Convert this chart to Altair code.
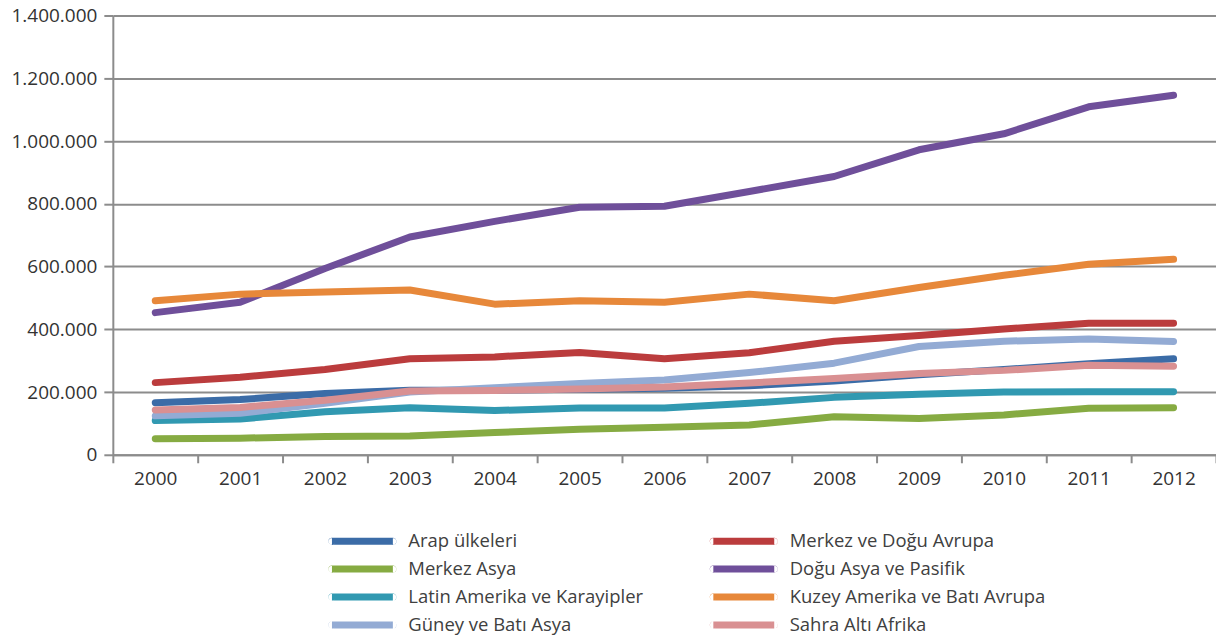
import altair as alt
import pandas as pd

years = [str(y) for y in range(2000, 2013)]

arap = [166000, 176000, 195000, 206000, 206000, 209000, 212000, 220000, 235000, 255000, 272000, 290000, 306000]
merkez_dogu_avrupa = [230000, 247000, 272000, 306000, 312000, 326000, 306000, 325000, 362000, 380000, 401000, 419000, 419000]
merkez_asya = [51000, 53000, 58000, 60000, 71000, 81000, 88000, 95000, 121000, 116000, 127000, 148000, 150000]
dogu_asya = [453000, 486000, 594000, 694000, 744000, 789000, 792000, 839000, 887000, 972000, 1023000, 1109000, 1146000]
latin = [109000, 114000, 137000, 150000, 141000, 149000, 149000, 164000, 183000, 193000, 200000, 201000, 201000]
kuzey = [491000, 512000, 519000, 525000, 480000, 491000, 486000, 512000, 491000, 533000, 572000, 607000, 623000]
guney = [124000, 132000, 164000, 200000, 214000, 227000, 238000, 262000, 292000, 345000, 362000, 369000, 361000]
sahra = [143000, 151000, 174000, 203000, 205000, 210000, 216000, 229000, 243000, 259000, 269000, 285000, 282000]

names = {
    "arap": "Arap ülkeleri",
    "mda": "Merkez ve Doğu Avrupa",
    "ma": "Merkez Asya",
    "dap": "Doğu Asya ve Pasifik",
    "lak": "Latin Amerika ve Karayipler",
    "kaba": "Kuzey Amerika ve Batı Avrupa",
    "gba": "Güney ve Batı Asya",
    "saa": "Sahra Altı Afrika",
}

# drawing order (later on top)
draw_order = [
    (names["arap"], arap),
    (names["ma"], merkez_asya),
    (names["lak"], latin),
    (names["gba"], guney),
    (names["mda"], merkez_dogu_avrupa),
    (names["dap"], dogu_asya),
    (names["kaba"], kuzey),
    (names["saa"], sahra),
]

# legend order (column-major, 2 columns x 4 rows)
legend_order = [names["arap"], names["ma"], names["lak"], names["gba"],
                names["mda"], names["dap"], names["kaba"], names["saa"]]
legend_colors = ["#3b6ca7", "#86ab42", "#3199b1", "#93abd4",
                 "#bb3c3d", "#6f4f9a", "#e7883a", "#d99092"]

rows = []
for name, vals in draw_order:
    for yr, v in zip(years, vals):
        rows.append({"year": yr, "region": name, "value": v})
df = pd.DataFrame(rows)

y_ticks = [0, 200000, 400000, 600000, 800000, 1000000, 1200000, 1400000]

# legend symbol: a line with round ends (tiny stroked circles at both ends)
legend_path = ("M -1 0 L 6.625 0 "
               "M -1.01 0 A 0.01 0.01 0 1 0 -0.99 0 A 0.01 0.01 0 1 0 -1.01 0 "
               "M 6.615 0 A 0.01 0.01 0 1 0 6.635 0 A 0.01 0.01 0 1 0 6.615 0")

base = alt.Chart(df).encode(
    x=alt.X("year:O",
            scale=alt.Scale(type="band", paddingInner=0, paddingOuter=0),
            bandPosition=0.5,
            axis=alt.Axis(title=None, labelAngle=0, tickBand="extent", tickSize=8,
                          labelPadding=7, grid=False)),
    y=alt.Y("value:Q",
            scale=alt.Scale(domain=[0, 1400000]),
            axis=alt.Axis(title=None, values=y_ticks, grid=True, tickSize=9, labelPadding=7,
                          labelExpr="replace(format(datum.value, ','), regexp(',', 'g'), '.')")),
    color=alt.Color("region:N",
                    scale=alt.Scale(domain=legend_order, range=legend_colors),
                    legend=alt.Legend(title=None, orient="none", legendX=216, legendY=515,
                                      columns=2, symbolType=legend_path, symbolSize=256,
                                      symbolStrokeWidth=7, labelOffset=57, rowPadding=-1,
                                      columnPadding=55, labelFont="Open Sans", labelFontSize=18.5,
                                      labelColor="#404040", labelLimit=400, padding=0,
                                      gridAlign="each", symbolOpacity=1)),
)

layers = [
    base.transform_filter(alt.datum.region == name).mark_line(
        strokeWidth=7, strokeCap="round", strokeJoin="round")
    for name, _ in draw_order
]

chart = alt.layer(*layers).properties(
    width=1105,
    height=440,
    autosize=alt.AutoSizeParams(type="none"),
    padding={"left": 105, "top": 7, "right": 0, "bottom": 182},
).configure_view(
    strokeWidth=0
).configure_axis(
    domainColor="#8c8c8c", domainWidth=2,
    tickColor="#8c8c8c", tickWidth=2,
    gridColor="#8c8c8c", gridWidth=2,
    labelFont="Open Sans", labelFontSize=19, labelColor="#333333",
)

chart.save("out.html", embed_options={"renderer": "svg", "actions": False})
